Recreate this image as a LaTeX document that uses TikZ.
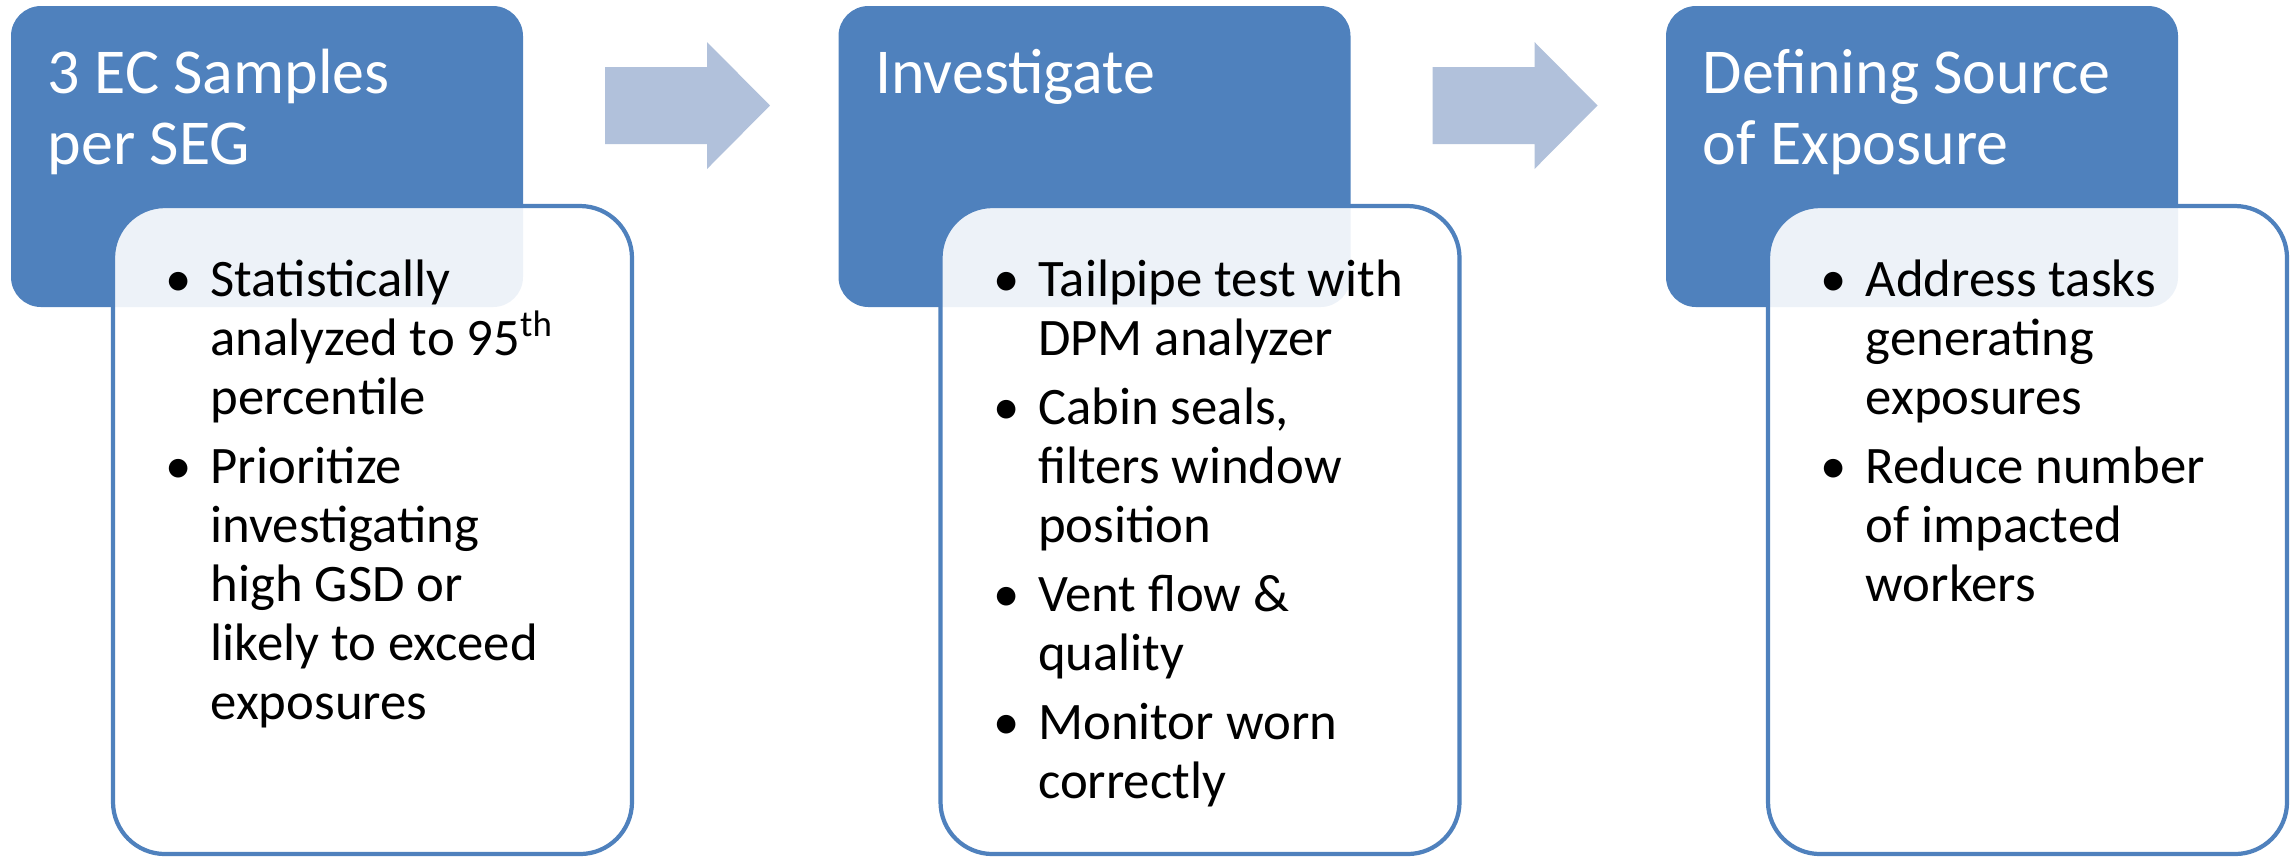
\documentclass[tikz,border=0pt]{standalone}
\usepackage{fontspec}
\setmainfont{Carlito}
\usepackage{tikz}

\definecolor{stepblue}{RGB}{79,129,189}
\definecolor{arrowblue}{RGB}{177,193,219}
\newcommand{\bul}{\leavevmode\llap{\makebox[0.45cm][l]{•}}}

\begin{document}
\begin{tikzpicture}[
		headbox/.style={fill=stepblue, rounded corners=0.3cm},
		listbox/.style={draw=stepblue, line width=1.2pt, fill=white, fill opacity=0.9, rounded corners=0.52cm},
		headtext/.style={anchor=base west, inner sep=0, text=white, font=\fontsize{18.2pt}{20.3pt}\selectfont},
		listtext/.style={anchor=base west, inner sep=0, font=\fontsize{15pt}{16.8pt}\selectfont},
		flowarrow/.style={fill=arrowblue}
	]
		\useasboundingbox (0, 0) rectangle (22.90, -8.56);

		% step 1
		\fill[headbox] (0.11, -0.06) rectangle (5.23, -3.07);
		\filldraw[listbox] (1.13, -2.06) rectangle (6.32, -8.54);
		\node[headtext] (head1) at (0.47, -0.93) {\parbox[t]{4.6cm}{\raggedright 3 EC Samples\\per SEG}};
		\node[listtext] (list1) at (2.10, -2.96) {\parbox[t]{4.2cm}{\raggedright
			\bul Statistically\\analyzed to 95\textsuperscript{th}\\percentile\\[0.1cm]
			\bul Prioritize\\investigating\\high GSD or\\likely to exceed\\exposures}};

		% step 2
		\fill[headbox] (8.385, -0.06) rectangle (13.505, -3.07);
		\filldraw[listbox] (9.405, -2.06) rectangle (14.595, -8.54);
		\node[headtext] (head2) at (8.745, -0.93) {\parbox[t]{4.6cm}{\raggedright Investigate}};
		\node[listtext] (list2) at (10.375, -2.96) {\parbox[t]{4.2cm}{\raggedright
			\bul Tailpipe test with\\DPM analyzer\\[0.1cm]
			\bul Cabin seals,\\filters window\\position\\[0.1cm]
			\bul Vent flow \&\\quality\\[0.1cm]
			\bul Monitor worn\\correctly}};

		% step 3
		\fill[headbox] (16.66, -0.06) rectangle (21.78, -3.07);
		\filldraw[listbox] (17.68, -2.06) rectangle (22.87, -8.54);
		\node[headtext] (head3) at (17.02, -0.93) {\parbox[t]{4.7cm}{\raggedright Defining Source\\of Exposure}};
		\node[listtext] (list3) at (18.65, -2.96) {\parbox[t]{4.2cm}{\raggedright
			\bul Address tasks\\generating\\exposures\\[0.1cm]
			\bul Reduce number\\of impacted\\workers}};

		% arrows between the steps
		\fill[flowarrow] (6.05, -0.67) -- (7.07, -0.67) -- (7.07, -0.42) -- (7.70, -1.055)
			-- (7.07, -1.69) -- (7.07, -1.44) -- (6.05, -1.44) -- cycle;
		\fill[flowarrow] (14.325, -0.67) -- (15.345, -0.67) -- (15.345, -0.42) -- (15.975, -1.055)
			-- (15.345, -1.69) -- (15.345, -1.44) -- (14.325, -1.44) -- cycle;
	\end{tikzpicture}
\end{document}
